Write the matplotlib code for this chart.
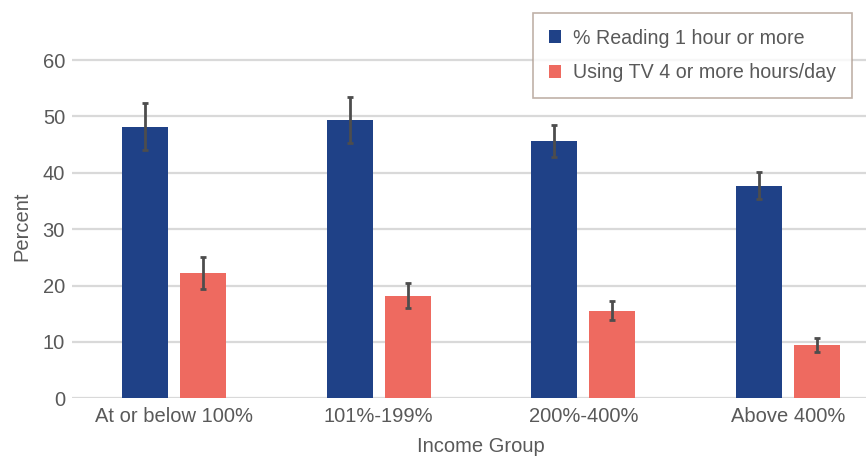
import matplotlib
matplotlib.use("Agg")
import matplotlib.pyplot as plt
import numpy as np

categories = ["At or below 100%", "101%-199%", "200%-400%", "Above 400%"]
reading = [48.2, 49.3, 45.6, 37.7]
reading_err = [4.1, 4.1, 2.8, 2.4]
tv = [22.2, 18.2, 15.5, 9.5]
tv_err = [2.8, 2.2, 1.7, 1.25]
series_names = ["% Reading 1 hour or more", "Using TV 4 or more hours/day"]
yticks = [0, 10, 20, 30, 40, 50, 60]

plt.rcParams["font.family"] = ["Liberation Sans", "DejaVu Sans"]

blue = "#1f4187"
red = "#ee6a60"
txt = "#595959"
fs = 14.5

fig = plt.figure(figsize=(8.66, 4.62), dpi=100)
ppu = (398.3 - 60) / 60.0
ytop = 61
ax = fig.add_axes([72/866, 1-398.3/462, (890-72)/866, ytop*ppu/462])

x = np.arange(len(categories))
w = 0.225
off = 0.142
ekw = dict(ecolor="#4d4d4d", elinewidth=2, capsize=2, capthick=2)
ax.bar(x - off, reading, w, color=blue, yerr=reading_err, error_kw=ekw,
       label=series_names[0], zorder=3)
ax.bar(x + off, tv, w, color=red, yerr=tv_err, error_kw=ekw,
       label=series_names[1], zorder=3)

ax.set_xlim(-0.5, 3.5)
ax.set_ylim(0, ytop)
ax.set_yticks(yticks)
ax.yaxis.grid(True, color="#d9d9d9", linewidth=1.6, zorder=0)
ax.set_axisbelow(True)
for s in ax.spines.values():
    s.set_visible(False)
ax.tick_params(axis="both", length=0, labelsize=fs, labelcolor=txt)
ax.tick_params(axis="y", pad=5)
ax.tick_params(axis="x", pad=6)
ax.set_xticks(x)
ax.set_xticklabels(categories)
ax.set_xlabel("Income Group", fontsize=fs, color=txt, labelpad=8)
ax.set_ylabel("Percent", fontsize=fs, color=txt, labelpad=8)

leg = fig.legend(loc="upper left", bbox_to_anchor=(533/866, 1-13/462),
                 fontsize=14.1, frameon=True, fancybox=False, handlelength=0.65,
                 handleheight=0.65, handletextpad=0.6, borderpad=0.8,
                 labelspacing=0.8, borderaxespad=0)
leg.get_frame().set_edgecolor("#b09e92")
leg.get_frame().set_linewidth(1.2)
for t in leg.get_texts():
    t.set_color(txt)

fig.savefig("out.png", dpi=100)
